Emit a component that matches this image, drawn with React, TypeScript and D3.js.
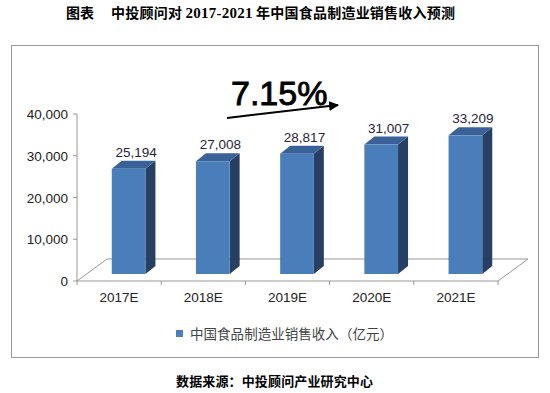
import React from 'react';
import * as d3 from 'd3';

const categories = ['2017E', '2018E', '2019E', '2020E', '2021E'];
const revenue = [25194, 27008, 28817, 31007, 33209];
const yTicks = [0, 10000, 20000, 30000, 40000];
const growthLabel = '7.15%';
const seriesName = '中国食品制造业销售收入（亿元）';
const titleLead = '图表';
const titleParts = ['中投顾问对 ', '2017-2021', ' 年中国食品制造业销售收入预测'];
const sourceNote = '数据来源：中投顾问产业研究中心';

const W = 550;
const H = 393;
// front plane of the 3d plot
const plot = { left: 77, right: 498, top: 114, bottom: 281 };
// floor depth and where the bars sit in it
const depth = { dx: 30, dy: -22 };
const barShift = { dx: 9.5, dy: -7 };
const barDepth = { dx: 10, dy: -8 };

const cjk = '"Noto Sans CJK SC", "Noto Sans", sans-serif';
const sans = '"Liberation Sans", Arial, sans-serif';

export default function App() {
  const x = d3.scaleBand<string>()
    .domain(categories)
    .range([plot.left, plot.right])
    .paddingInner(0.6)
    .paddingOuter(0.3);

  const y = d3.scaleLinear().domain([0, 40000]).range([plot.bottom, plot.top]);
  const fmt = d3.format(',');
  const bw = x.bandwidth();
  const step = x.step();

  const floorPts = [
    [plot.left, plot.bottom],
    [plot.right, plot.bottom],
    [plot.right + depth.dx, plot.bottom + depth.dy],
    [plot.left + depth.dx, plot.bottom + depth.dy],
  ];

  return (
    <svg width={W} height={H} style={{ position: 'absolute', left: 0, top: 0, background: '#fff' }}>
      <text x={66} y={18} fontFamily={cjk} fontWeight="bold" fontSize={14} fill="#000">{titleLead}</text>
      <text x={111} y={18} fontFamily={cjk} fontWeight="bold" fontSize={14} fill="#000" textLength={344} lengthAdjust="spacing">
        <tspan>{titleParts[0]}</tspan>
        <tspan fontFamily='"Liberation Serif", serif' fontSize={15}>{titleParts[1]}</tspan>
        <tspan>{titleParts[2]}</tspan>
      </text>

      <rect x={11.5} y={45.5} width={527} height={312} fill="none" stroke="#999" />

      {/* floor */}
      <polygon points={floorPts.map(p => p.join(',')).join(' ')} fill="none" stroke="#999" />

      {/* y axis */}
      <line x1={plot.left} x2={plot.left} y1={y(40000)} y2={plot.bottom} stroke="#999" />
      {yTicks.map(t => (
        <g key={t}>
          <line x1={plot.left - 4} x2={plot.left} y1={y(t)} y2={y(t)} stroke="#999" />
          <text x={68} y={y(t) + 5} textAnchor="end" fontFamily={sans} fontSize={13.5} fill="#222">{fmt(t)}</text>
        </g>
      ))}

      {/* x ticks and labels */}
      {d3.range(categories.length + 1).map(i => {
        const tx = plot.left + i * step;
        return <line key={i} x1={tx} x2={tx} y1={plot.bottom} y2={plot.bottom + 4} stroke="#999" />;
      })}
      {categories.map(c => (
        <text key={c} x={(x(c) as number) + bw / 2} y={302} textAnchor="middle" fontFamily={sans} fontSize={13.5} fill="#222">{c}</text>
      ))}

      {/* bars */}
      {categories.map((c, i) => {
        const x0 = (x(c) as number) + barShift.dx;
        const x1 = x0 + bw;
        const yb = plot.bottom + barShift.dy;
        const yt = y(revenue[i]) + barShift.dy;
        const top = [[x0, yt], [x1, yt], [x1 + barDepth.dx, yt + barDepth.dy], [x0 + barDepth.dx, yt + barDepth.dy]];
        const side = [[x1, yt], [x1 + barDepth.dx, yt + barDepth.dy], [x1 + barDepth.dx, yb + barDepth.dy], [x1, yb]];
        return (
          <g key={c}>
            <polygon points={side.map(p => p.join(',')).join(' ')} fill="#263F63" />
            <polygon points={top.map(p => p.join(',')).join(' ')} fill="#3A6298" />
            <rect x={x0} y={yt} width={bw} height={yb - yt} fill="#4A7EBB" />
            <text x={x0 + bw / 2 + 7.5} y={yt - 12} textAnchor="middle" fontFamily={sans} fontSize={13.5} fill="#2a2238">{fmt(revenue[i])}</text>
          </g>
        );
      })}

      {/* growth annotation */}
      <defs>
        <marker id="arr" viewBox="0 0 10 10" refX={9} refY={5} markerWidth={5} markerHeight={5} orient="auto">
          <path d="M0,0 L10,5 L0,10 z" fill="#000" />
        </marker>
      </defs>
      <text x={231} y={105} fontFamily={sans} fontSize={34} fill="#000" stroke="#000" strokeWidth={0.9}>{growthLabel}</text>
      <line x1={227} y1={118} x2={338} y2={105} stroke="#000" strokeWidth={2} markerEnd="url(#arr)" />

      {/* legend */}
      <rect x={176} y={330} width={7} height={7} fill="#4A7EBB" />
      <text x={190} y={339} fontFamily={cjk} fontSize={13.5} fill="#444" textLength={203} lengthAdjust="spacing">{seriesName}</text>

      <text x={176} y={386} fontFamily={cjk} fontWeight="bold" fontSize={13} fill="#000" textLength={197} lengthAdjust="spacing">{sourceNote}</text>
    </svg>
  );
}
